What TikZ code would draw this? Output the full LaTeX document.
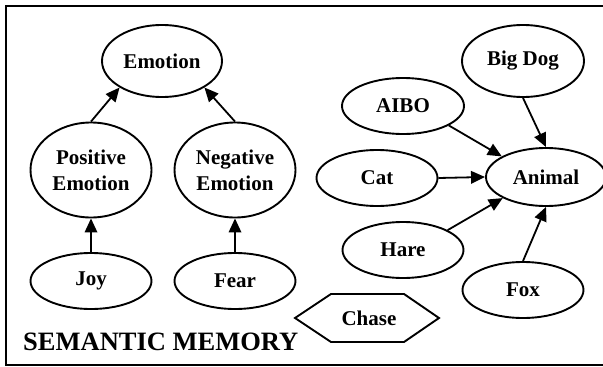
\documentclass[tikz,border=0pt]{standalone}
\usepackage{fontspec}
\setmainfont{Liberation Serif}
\usetikzlibrary{shapes.geometric,arrows.meta}
\begin{document}
\begin{tikzpicture}[x=1pt,y=-1pt,
  concept/.style={ellipse,draw,line width=1.9pt,inner sep=0pt,align=center,
    font=\bfseries\fontsize{21}{26}\selectfont},
  edge/.style={line width=1.8pt,-{Triangle[length=14pt,width=12.5pt]}}]
\useasboundingbox (0,0) rectangle (603,367);
\clip (0,0) rectangle (603,367);
\draw[line width=2.8pt] (6,6) rectangle (620,365);
% left
\node[concept,minimum width=120pt,minimum height=72pt] (emo) at (162,61) {Emotion};
\node[concept,minimum width=121pt,minimum height=95pt] (pos) at (91,170) {Positive\\Emotion};
\node[concept,minimum width=121pt,minimum height=95pt] (neg) at (235,170) {Negative\\Emotion};
\node[concept,minimum width=121pt,minimum height=56pt] (joy) at (91,281) {Joy};
\node[concept,minimum width=121pt,minimum height=56pt] (fear) at (235,281) {Fear};
\draw[edge] (pos.north) -- (emo.212);
\draw[edge] (neg.north) -- (emo.328);
\draw[edge] (joy) -- (pos);
\draw[edge] (fear) -- (neg);
% right
\node[concept,minimum width=122pt,minimum height=72pt] (dog) at (523,61) {Big Dog};
\node[concept,minimum width=122pt,minimum height=56pt] (aibo) at (403,106) {AIBO};
\node[concept,minimum width=121pt,minimum height=56pt] (cat) at (377,178) {Cat};
\node[concept,minimum width=120pt,minimum height=58pt] (ani) at (546,177) {Animal};
\node[concept,minimum width=121pt,minimum height=56pt] (hare) at (403,250) {Hare};
\node[concept,minimum width=121pt,minimum height=56pt] (fox) at (523,290) {Fox};
\draw[edge] (aibo.337) -- (ani.155);
\draw[edge] (dog.south) -- (ani.north);
\draw[edge] (cat.east) -- (ani.west);
\draw[edge] (hare.24) -- (ani.206);
\draw[edge] (fox.north) -- (ani.south);
% hexagon
\draw[line width=1.9pt] (295,318) -- (331,294) -- (404,294) -- (439,318) -- (404,342) -- (331,342) -- cycle;
\node[font=\bfseries\fontsize{21}{26}\selectfont] (chase) at (369,318) {Chase};
\node[anchor=base west,inner sep=0pt,font=\bfseries\fontsize{26.5}{30}\selectfont] (lbl) at (23,350) {SEMANTIC MEMORY};
\end{tikzpicture}
\end{document}
